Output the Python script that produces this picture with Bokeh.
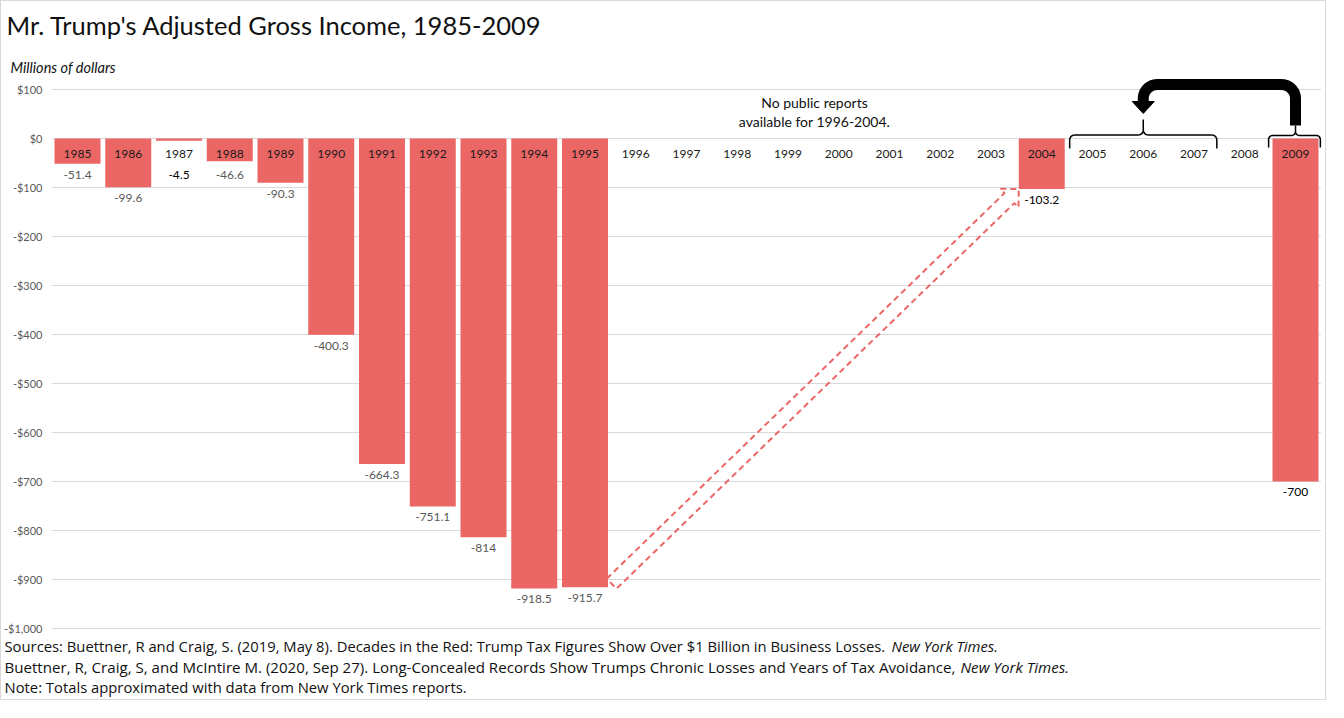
import math
import numpy as np
from bokeh.plotting import figure
from bokeh.models import Label, Range1d
from bokeh.core.properties import value
from bokeh.embed import file_html
from bokeh.resources import INLINE

# ---------------- data ----------------
years = [str(y) for y in range(1985, 2010)]
agi = [-51.4, -99.6, -4.5, -46.6, -90.3, -400.3, -664.3, -751.1, -814, -918.5, -915.7,
       None, None, None, None, None, None, None, None,
       -103.2,
       None, None, None, None,
       -700]
value_label_colors = ["#595959", "#595959", "#000000", "#595959", "#595959", "#595959",
                      "#595959", "#595959", "#595959", "#595959", "#595959",
                      "#000000", "#000000"]
tick_values = [100, 0, -100, -200, -300, -400, -500, -600, -700, -800, -900, -1000]
tick_labels = ["$100", "$0", "-$100", "-$200", "-$300", "-$400", "-$500", "-$600",
               "-$700", "-$800", "-$900", "-$1,000"]

title = "Mr. Trump's Adjusted Gross Income, 1985-2009"
subtitle = "Millions of dollars"
note_lines = ["No public reports", "available for 1996-2004."]
src1 = "Sources: Buettner, R and Craig, S. (2019, May 8). Decades in the Red: Trump Tax Figures Show Over $1 Billion in Business Losses."
src2 = " Buettner, R, Craig, S, and McIntire M. (2020, Sep 27). Long-Concealed Records Show Trumps Chronic Losses and Years of Tax Avoidance,"
src_ital = "New York Times."
src3 = "Note: Totals approximated with data from New York Times reports."

# ---------------- layout (page pixels) ----------------
W, H = 1326, 700
PAGE_L, PAGE_T = 9, 9            # canvas origin on the page (8px margin + 1px border)
SX, SY = 50.75, 0.49             # pixels per category / per million
CX0, ZERO_Y = 85, 146            # page x of first category centre, page y of $0
X0 = (PAGE_L - CX0) / SX
X1 = (PAGE_L + W - CX0) / SX
Y1 = (ZERO_Y - PAGE_T) / SY
Y0 = (ZERO_Y - PAGE_T - H) / SY

def px(i):
    return CX0 + i * SX

def py(v):
    return ZERO_Y - v * SY

def dx(X):
    return (X - CX0) / SX

def dy(Y):
    return (ZERO_Y - Y) / SY

BAR_COLOR = "#EB6766"
FONT = "Lato"
SRC_FONT = "Open Sans"
TXT = "#111111"

p = figure(width=W, height=H, x_range=Range1d(X0, X1), y_range=Range1d(Y0, Y1),
           output_backend="svg", toolbar_location=None,
           min_border_left=0, min_border_right=0, min_border_top=0, min_border_bottom=0)
p.styles = {"border": "1px solid #D9D9D9"}
p.background_fill_color = "white"
p.border_fill_color = "white"
p.outline_line_color = None
p.xaxis.visible = False
p.yaxis.visible = False
p.xgrid.visible = False
p.ygrid.visible = False

n_cat = len(years)
idx = list(range(n_cat))
bar_x = [i for i, v in zip(idx, agi) if v is not None]
bar_v = [v for v in agi if v is not None]

# ---- gridlines and y tick labels ----
p.segment(x0=[-0.5] * len(tick_values), x1=[n_cat - 0.5] * len(tick_values),
          y0=tick_values, y1=tick_values, line_color="#D9D9D9", line_width=1)
p.text(x=[dx(50)] * len(tick_values), y=tick_values, text=tick_labels, text_align="right",
       text_baseline="middle", text_font=value(FONT), text_font_size="11px",
       text_color="#595959")

# ---- dashed double arrow from 1995 bar end to 2004 bar end ----
half_bar = 0.453
i95, i04 = years.index("1995"), years.index("2004")
A = np.array([px(i95 + half_bar), py(agi[i95])])
B = np.array([px(i04 - half_bar), py(agi[i04])])
u = (B - A) / np.linalg.norm(B - A)
n = np.array([-u[1], u[0]])
Ap = A + 5 * u
Bp = B - 13 * u
pts = [Ap - 7 * n, Bp - 7 * n, Bp - 13 * n, B, Bp + 13 * n, Bp + 7 * n, Ap + 7 * n, Ap - 7 * n]
p.line([dx(q[0]) for q in pts], [dy(q[1]) for q in pts], line_color=BAR_COLOR,
       line_width=2, line_dash="6 4")

# ---- bars ----
p.vbar(x=bar_x, top=0, bottom=bar_v, width=0.906, fill_color=BAR_COLOR, line_color=None)

# ---- year labels ----
year_label_y = dy(161)
p.text(x=idx, y=[year_label_y] * n_cat, text=years, text_align="center",
       text_baseline="middle", text_font=value(FONT), text_font_size="12px",
       text_color="#1a1a1a")

# ---- value labels ----
floor_v = -52
gap = 14
lab_y = [min(v, floor_v) - gap for v in bar_v]
lab_t = [f"{v:g}" for v in bar_v]
p.text(x=bar_x, y=lab_y, text=lab_t, text_align="center", text_baseline="top",
       text_font=value(FONT), text_font_size="12px", text_color=value_label_colors)

# ---- curly braces ----
def arc(cx, cy, r, t0, t1, k=8):
    ts = np.radians(np.linspace(t0, t1, k))
    return [(cx + r * math.cos(t), cy + r * math.sin(t)) for t in ts]

def brace(x0, x1, xm, ylev, yend, ytip, r):
    left = [(x0, yend)] + arc(x0 + r, ylev + r, r, 180, 270) + arc(xm - r, ylev - r, r, 90, 0) + [(xm, ytip)]
    right = [(xm, ytip)] + arc(xm + r, ylev - r, r, 180, 90) + arc(x1 - r, ylev + r, r, 270, 360) + [(x1, yend)]
    pts = left + right
    p.line([dx(a) for a, b in pts], [dy(b) for a, b in pts], line_color="black", line_width=1.5)

i05, i06, i07, i09 = (years.index(y) for y in ("2005", "2006", "2007", "2009"))
brace(px(i05 - 0.45), px(i07 + 0.45), px(i06), 142.5, 156, 127, 5)
brace(px(i09 - 0.53), px(i09 + 0.49), px(i09), 143, 155, 133, 4)

# ---- black bent arrow from 2009 to 2005-2007 ----
xr, xl = px(i09), px(i06)
ytop, ybot, r = 92, 133, 14
path = [(xr, ybot)] + arc(xr - r, ytop + r, r, 0, -90, 12) + arc(xl + r, ytop + r, r, 270, 180, 12) + [(xl, 110)]
p.line([dx(a) for a, b in path], [dy(b) for a, b in path], line_color="black",
       line_width=11, line_join="round", line_cap="butt")
p.patch([dx(xl - 11), dx(xl + 11), dx(xl)], [dy(109), dy(109), dy(121)], fill_color="black",
        line_color="black", line_width=1)

# ---- texts ----
def label(text, X, Y, size, align="left", style="normal", color=TXT, font=FONT):
    p.add_layout(Label(x=dx(X), y=dy(Y), text=text, text_align=align, text_baseline="middle",
                       text_font=font, text_font_size=size, text_font_style=style,
                       text_color=color))

label(title, 14, 32, "25.5px")
label(subtitle, 18, 75, "14.5px", style="italic")
label(note_lines[0], 822, 110, "14px", align="center")
label(note_lines[1], 822, 129, "14px", align="center")
label(src1, 12, 653, "14.8px", font=SRC_FONT)
label(src_ital, 899, 653, "14.8px", style="italic", font=SRC_FONT)
label(src2, 12, 674, "15.1px", font=SRC_FONT)
label(src_ital, 968, 674, "15.1px", style="italic", font=SRC_FONT)
label(src3, 12, 694, "14.8px", font=SRC_FONT)

open("out.html", "w").write(file_html(p, INLINE))
